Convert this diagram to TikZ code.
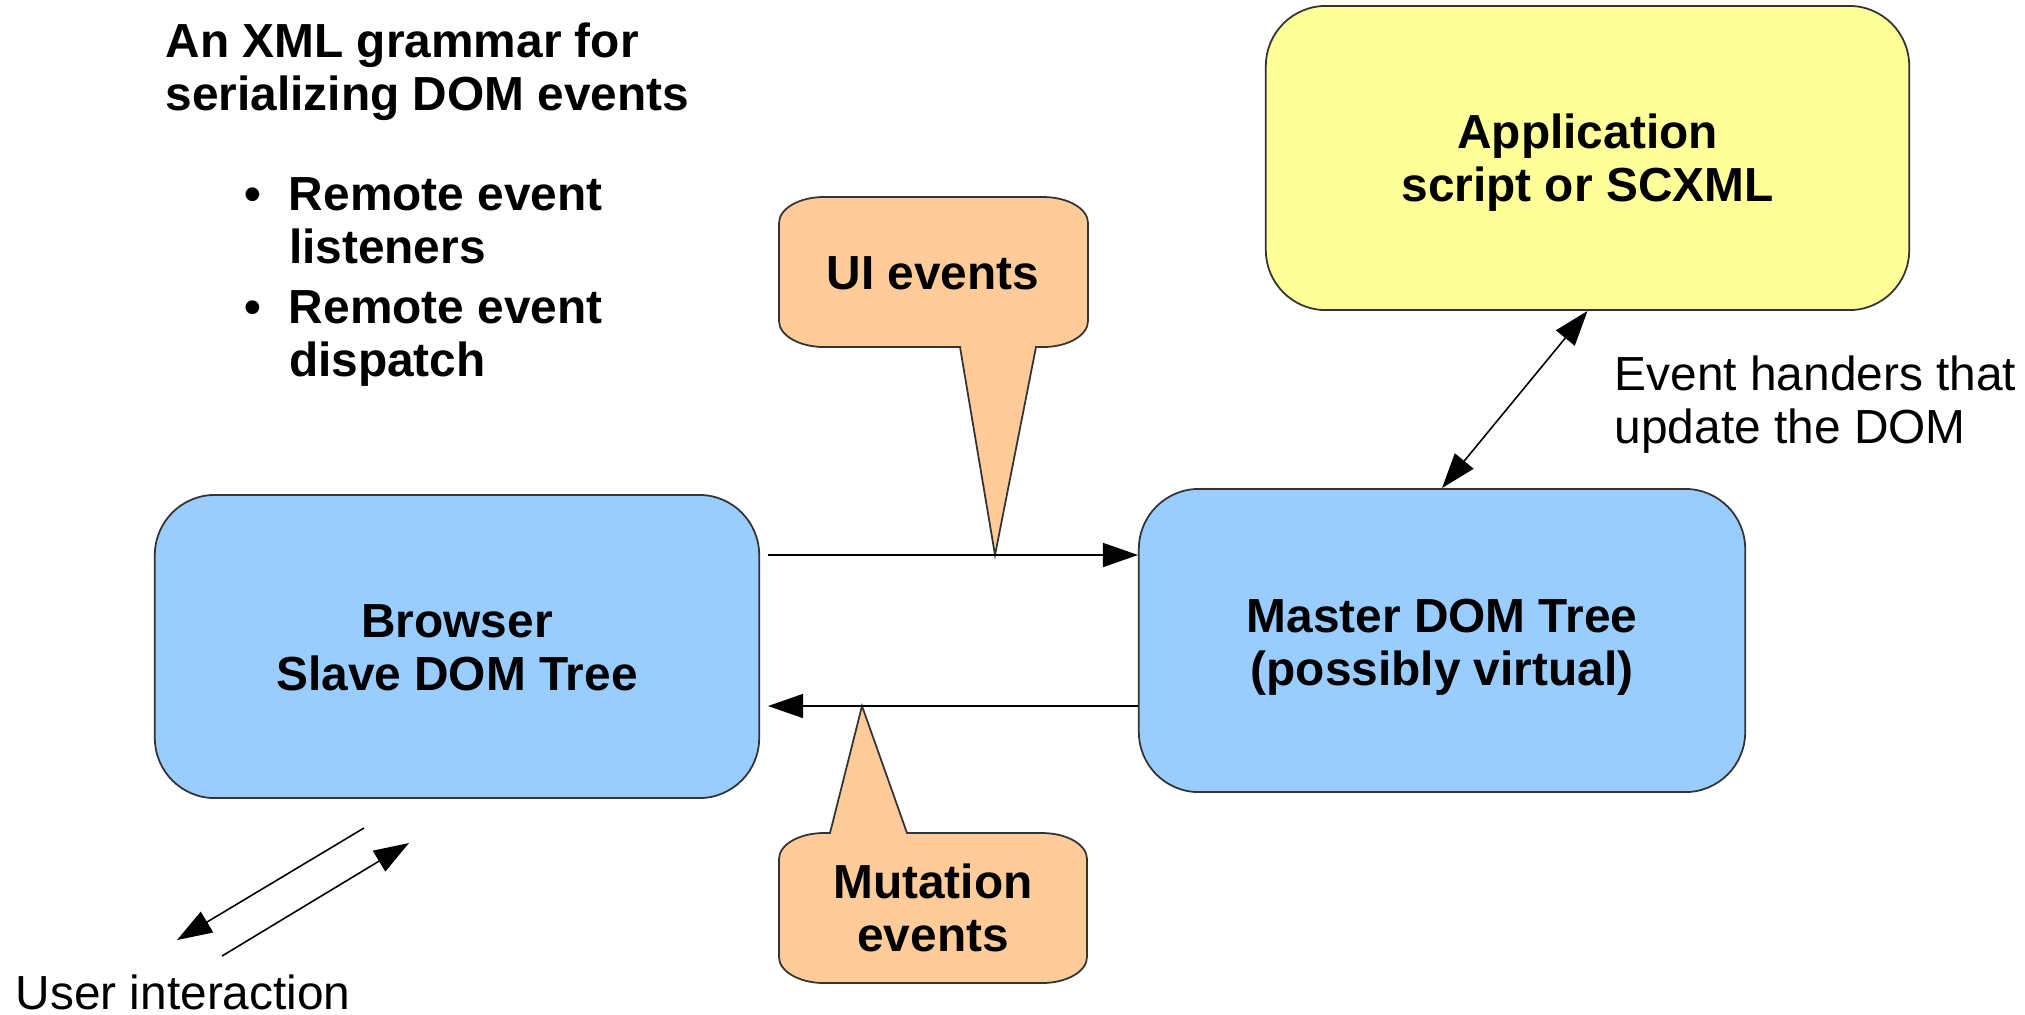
\documentclass[tikz,border=0pt]{standalone}
\usepackage{fontspec}
\setmainfont{Liberation Sans}
\usepackage{tikz}
\usetikzlibrary{arrows.meta}

\definecolor{domblue}{HTML}{99CCFF}
\definecolor{appyellow}{HTML}{FFFF99}
\definecolor{evtorange}{HTML}{FFCC99}
\newcommand{\bigtext}{\fontsize{13.6}{15.1}\selectfont}

\tikzset{
  >={Triangle[length=0.35cm, width=0.24cm]},
  box/.style={draw=black!80, line width=0.5pt, rounded corners=0.6cm},
  boxtext/.style={align=center, font=\bfseries\bigtext},
  bubble/.style={draw=black!80, line width=0.5pt, fill=evtorange},
  arr/.style={line width=0.45pt, ->},
  txt/.style={inner sep=0pt, anchor=west, align=left, font=\bigtext},
}

\begin{document}
\begin{tikzpicture}[x=0.01cm, y=-0.01cm]
  \useasboundingbox (0,0) rectangle (2025,1014);

  \node[box, fill=domblue, minimum width=6.04cm, minimum height=3.03cm] (browser) at (457,646.5) {};
  \node[boxtext] (browsertext) at (457,648) {Browser\\Slave DOM Tree};
  \node[box, fill=domblue, minimum width=6.06cm, minimum height=3.03cm] (master) at (1442,640.5) {};
  \node[boxtext] (mastertext) at (1442,647) {Master DOM Tree\\(possibly virtual)};
  \node[box, fill=appyellow, minimum width=6.43cm, minimum height=3.04cm] (app) at (1587.5,158) {};
  \node[boxtext] (apptext) at (1587.5,162.5) {Application\\script or SCXML};

  % speech bubbles
  \draw[bubble] (824,197) -- (1043,197) arc[start angle=90, end angle=0, x radius=0.45cm, y radius=0.26cm]
    -- (1088,321) arc[start angle=0, end angle=-90, x radius=0.45cm, y radius=0.26cm]
    -- (1036,347) -- (995,555) -- (960,347) -- (824,347)
    arc[start angle=270, end angle=180, x radius=0.45cm, y radius=0.26cm]
    -- (779,223) arc[start angle=180, end angle=90, x radius=0.45cm, y radius=0.26cm] -- cycle;
  \node[boxtext] (ui) at (933,273) {UI events};

  \draw[bubble] (824,833) -- (830,833) -- (862,706) -- (907,833) -- (1042,833)
    arc[start angle=90, end angle=0, x radius=0.45cm, y radius=0.26cm]
    -- (1087,957) arc[start angle=0, end angle=-90, x radius=0.45cm, y radius=0.26cm]
    -- (824,983) arc[start angle=270, end angle=180, x radius=0.45cm, y radius=0.26cm]
    -- (779,859) arc[start angle=180, end angle=90, x radius=0.45cm, y radius=0.26cm] -- cycle;
  \node[boxtext] (mutation) at (933,908) {Mutation\\events};

  \coordinate (uitip) at (995,555);
  \coordinate (mutip) at (862,706);
  \draw[arr] ([xshift=0.08cm]browser.east |- uitip) -- (master.west |- uitip);
  \draw[arr] (master.west |- mutip) -- ([xshift=0.08cm]browser.east |- mutip);
  \draw[arr, <->] (master.north) -- (app.south);

  \coordinate (user1) at (364,828);
  \coordinate (user2) at (177,940);
  \coordinate (user3) at (222,956);
  \coordinate (user4) at (409,843);
  \draw[arr] (user1) -- (user2);
  \draw[arr] (user3) -- (user4);

  \node[txt] (user) at (15,992) {User interaction};
  \node[txt] (handlers) at (1614,404.5) {Event handers that\\update the DOM};
  \node[txt, font=\bfseries\bigtext] (title) at (165,71.5) {An XML grammar for\\serializing DOM events};
  \node[txt, font=\bfseries\bigtext] (features) at (244,282) {\textbullet\hspace{0.275cm}Remote event\\\hspace*{0.443cm}listeners\\[0.07cm]\textbullet\hspace{0.275cm}Remote event\\\hspace*{0.443cm}dispatch};
\end{tikzpicture}
\end{document}
